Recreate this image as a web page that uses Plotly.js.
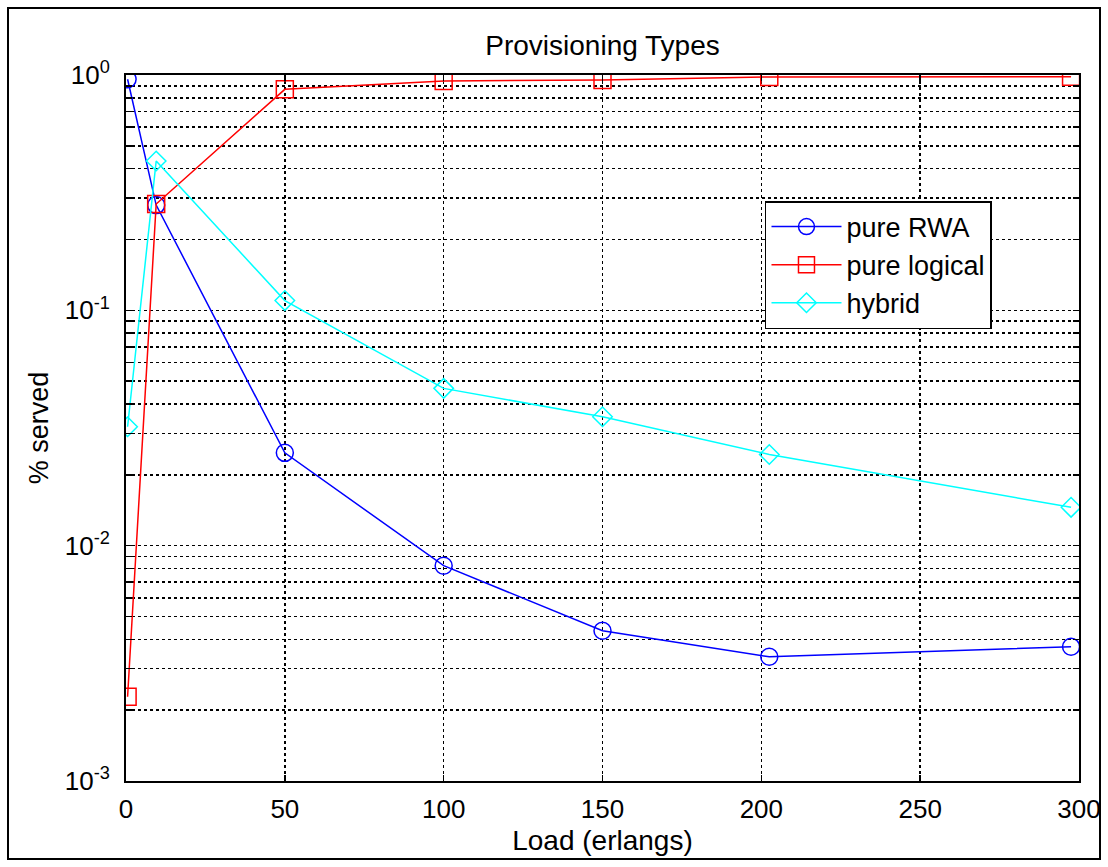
<!DOCTYPE html>
<html>
<head>
<meta charset="utf-8">
<script src="https://cdn.plot.ly/plotly-3.0.1.min.js"></script>
<style>
  html, body { margin: 0; padding: 0; background: #fff; }
  #wrap { position: relative; width: 1108px; height: 867px; }
  #chart { width: 1108px; height: 867px; }
  #frame { position: absolute; left: 7px; top: 7px; width: 1094px; height: 853px;
           border: 2px solid #000; box-sizing: border-box; pointer-events: none; }
</style>
</head>
<body>
<div id="wrap">
  <div id="chart"></div>
  <div id="frame"></div>
</div>
<script>
// Data
const load = [0.5, 9.5, 50, 100, 150, 202.5, 297.5];
const pureRWA = [0.959, 0.280, 0.0248, 0.00822, 0.00435, 0.00337, 0.00372];
const pureLogical = [0.00228, 0.283, 0.869, 0.943, 0.952, 0.981, 0.983];
const hybrid = [0.0320, 0.431, 0.110, 0.0466, 0.0353, 0.0244, 0.01455];

const seriesNames = ['pure RWA', 'pure logical', 'hybrid'];
const xTickVals = [0, 50, 100, 150, 200, 250, 300];
const yDecades = [0.001, 0.01, 0.1, 1];
const yDecadeLabels = ['10<sup>-3</sup>', '10<sup>-2</sup>', '10<sup>-1</sup>', '10<sup>0</sup>'];

// log grid tick positions (decades plus 2..9 multiples)
const yTickVals = [];
const yTickText = [];
yDecades.forEach((d, i) => {
  yTickVals.push(d); yTickText.push(yDecadeLabels[i]);
  if (i < yDecades.length - 1) {
    for (let m = 2; m <= 9; m++) { yTickVals.push(d * m); yTickText.push(''); }
  }
});

const traces = [
  { x: load, y: pureRWA, name: seriesNames[0], type: 'scatter', mode: 'lines+markers',
    line: { color: '#0000ff', width: 1.5 },
    marker: { symbol: 'circle-open', size: 17, color: '#0000ff', line: { width: 1.5, color: '#0000ff' } } },
  { x: load, y: pureLogical, name: seriesNames[1], type: 'scatter', mode: 'lines+markers',
    line: { color: '#ff0000', width: 1.5 },
    marker: { symbol: 'square-open', size: 17, color: '#ff0000', line: { width: 1.5, color: '#ff0000' } } },
  { x: load, y: hybrid, name: seriesNames[2], type: 'scatter', mode: 'lines+markers',
    line: { color: '#00ffff', width: 1.5 },
    marker: { symbol: 'diamond-open', size: 15, color: '#00ffff', line: { width: 1.5, color: '#00ffff' } } }
];

const font = 'Arial, "Liberation Sans", Helvetica, sans-serif';

const layout = {
  width: 1108, height: 867,
  paper_bgcolor: '#ffffff', plot_bgcolor: '#ffffff',
  margin: { l: 126, r: 29, t: 75, b: 86 },
  font: { family: font, color: '#000', size: 25 },
  title: { text: 'Provisioning Types', font: { family: font, size: 28, color: '#000' },
           x: 0.5, xref: 'paper', y: 1 - 45 / 867, yanchor: 'middle' },
  showlegend: true,
  legend: { x: 0.6705, y: 0.8215, xanchor: 'left', yanchor: 'top',
            bgcolor: '#ffffff', bordercolor: '#000', borderwidth: 1.5,
            font: { family: font, size: 27, color: '#000' }, tracegroupgap: 0,
            itemwidth: 70 },
  xaxis: {
    range: [0, 300], tickvals: xTickVals, ticktext: xTickVals.map(String),
    ticks: 'inside', ticklen: 6, tickcolor: '#000', tickwidth: 1.5,
    showline: true, linecolor: '#000', linewidth: 2, mirror: 'ticks',
    showgrid: true, gridcolor: '#000', gridwidth: 1.5, griddash: 'dot',
    zeroline: false, tickfont: { size: 26 }, ticklabelstandoff: 4,
    title: { text: 'Load (erlangs)', font: { size: 28 }, standoff: 7 }
  },
  yaxis: {
    type: 'log', range: [-3, 0], tickvals: yTickVals, ticktext: yTickText,
    ticks: 'inside', ticklen: 6, tickcolor: '#000', tickwidth: 1.5,
    showline: true, linecolor: '#000', linewidth: 2, mirror: 'ticks',
    showgrid: true, gridcolor: '#000', gridwidth: 1.5, griddash: 'dot',
    zeroline: false, tickfont: { size: 26 }, ticklabelstandoff: 9,
    title: { text: '% served', font: { size: 27 }, standoff: 8 }
  }
};

Plotly.newPlot('chart', traces, layout, { displayModeBar: false, staticPlot: true });
</script>
</body>
</html>
